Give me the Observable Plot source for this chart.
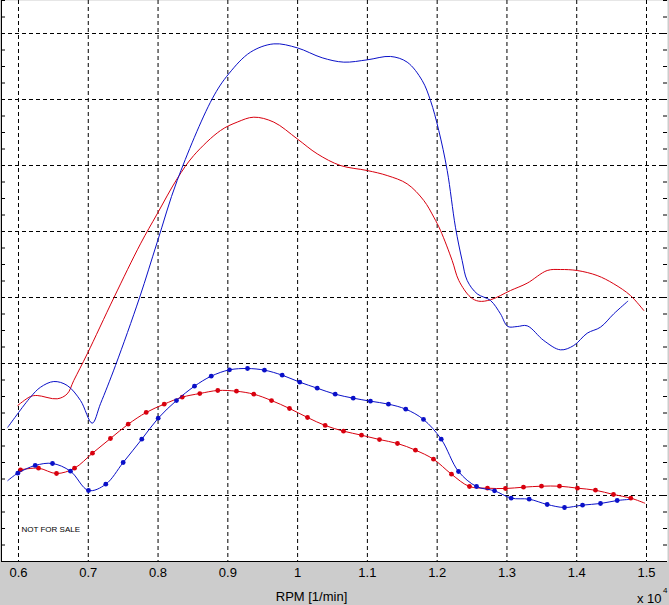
<!DOCTYPE html>
<html>
<head>
<meta charset="utf-8">
<script src="https://cdn.jsdelivr.net/npm/d3@7"></script>
<script src="https://cdn.jsdelivr.net/npm/@observablehq/plot@0.6"></script>
<style>
html, body { margin: 0; padding: 0; background: #cccccc; }
#chart { width: 669px; height: 605px; }
</style>
</head>
<body>
<div id="chart"></div>
<script>
// ---------- data (RPM, value in grid units) ----------
const upperBlueRpm = [5847, 6172, 6315, 6506, 6698, 6889, 7056, 7175, 7390, 7734, 7988, 8274, 8776, 9014, 9325, 9659, 9994, 10352, 10662, 10997, 11331, 11570, 11785, 11904, 12023, 12144, 12262, 12358, 12430, 12573, 12764, 12907, 13012, 13147, 13290, 13528, 13767, 13958, 14150, 14340, 14531, 14732];
const upperBlueVal = [2.035, 2.49, 2.64, 2.727, 2.667, 2.439, 2.096, 2.39, 2.97, 3.995, 4.838, 5.773, 7.01, 7.39, 7.717, 7.843, 7.783, 7.632, 7.566, 7.601, 7.652, 7.566, 7.288, 6.985, 6.53, 5.924, 5.065, 4.56, 4.258, 4.056, 3.955, 3.753, 3.561, 3.56, 3.571, 3.348, 3.207, 3.273, 3.459, 3.55, 3.753, 3.944];

const upperRedRpm = [5990, 6172, 6268, 6555, 6698, 6792, 6985, 7366, 7748, 7988, 8274, 8512, 8895, 9134, 9372, 9659, 9994, 10281, 10614, 10997, 11284, 11570, 11808, 11952, 12048, 12215, 12310, 12478, 12597, 12764, 13051, 13290, 13577, 13767, 14007, 14293, 14531, 14770, 14961];
const upperRedVal = [2.364, 2.5, 2.515, 2.465, 2.54, 2.742, 3.146, 3.995, 4.813, 5.268, 5.8, 6.152, 6.53, 6.657, 6.732, 6.657, 6.404, 6.177, 6.0, 5.924, 5.848, 5.722, 5.47, 5.217, 5.015, 4.56, 4.258, 4.005, 3.944, 3.965, 4.106, 4.217, 4.409, 4.424, 4.409, 4.333, 4.207, 4.03, 3.803];

const lowerBlueRpm = [5990, 6239, 6487, 6745, 7003, 7251, 7500, 7767, 8002, 8264, 8522, 8762, 9024, 9282, 9525, 9779, 10031, 10281, 10539, 10797, 11044, 11302, 11550, 11804, 12058, 12306, 12564, 12822, 13061, 13319, 13577, 13825, 14083, 14341, 14580];
const lowerBlueVal = [1.338, 1.455, 1.485, 1.368, 1.076, 1.171, 1.5, 1.853, 2.171, 2.439, 2.656, 2.808, 2.904, 2.924, 2.899, 2.823, 2.717, 2.626, 2.535, 2.475, 2.429, 2.384, 2.308, 2.152, 1.853, 1.364, 1.136, 1.071, 0.96, 0.944, 0.864, 0.818, 0.854, 0.879, 0.924];
const lowerBlueLeadRpm = [5847];
const lowerBlueLeadVal = [1.227];
const lowerBlueTailRpm = [14746];
const lowerBlueTailVal = [0.94];

const lowerRedRpm = [6029, 6287, 6545, 6803, 7060, 7318, 7572, 7830, 8088, 8346, 8598, 8856, 9124, 9372, 9626, 9884, 10142, 10395, 10658, 10916, 11173, 11431, 11689, 11947, 12205, 12463, 12721, 12979, 13237, 13495, 13753, 14011, 14269, 14527, 14775];
const lowerRedVal = [1.389, 1.414, 1.333, 1.414, 1.641, 1.864, 2.08, 2.258, 2.384, 2.49, 2.545, 2.591, 2.58, 2.535, 2.439, 2.318, 2.182, 2.061, 1.975, 1.914, 1.848, 1.788, 1.687, 1.55, 1.323, 1.136, 1.111, 1.106, 1.126, 1.141, 1.141, 1.111, 1.08, 1.015, 0.96];
const lowerRedTailRpm = [14975];
const lowerRedTailVal = [0.884];

const xTicks = [6000, 7000, 8000, 9000, 10000, 11000, 12000, 13000, 14000, 15000];
const xTickLabels = ["0.6", "0.7", "0.8", "0.9", "1", "1.1", "1.2", "1.3", "1.4", "1.5"];
const yGrid = [1, 2, 3, 4, 5, 6, 7, 8];
const yMinorTicks = d3.range(0, 8.51, 0.25);
const xLabel = "RPM [1/min]";
const xExponentBase = "x 10";
const xExponent = "4";
const watermark = "NOT FOR SALE";

// ---------- helpers ----------
const zip = (xs, ys) => xs.map((x, i) => ({x, y: ys[i]}));
const upperBlue = zip(upperBlueRpm, upperBlueVal);
const upperRed = zip(upperRedRpm, upperRedVal);
const lowerBlueMarks = zip(lowerBlueRpm, lowerBlueVal);
const lowerRedMarks = zip(lowerRedRpm, lowerRedVal);
const lowerBlueLine = zip(lowerBlueLeadRpm, lowerBlueLeadVal).concat(lowerBlueMarks, zip(lowerBlueTailRpm, lowerBlueTailVal));
const lowerRedLine = lowerRedMarks.concat(zip(lowerRedTailRpm, lowerRedTailVal));

const W = 669, H = 605;
const mL = 1, mR = 2, mT = 0, mB = 44;
const frameW = W - mL - mR;
const xDomain = [5756.4, 15300.9];
const yDomain = [0, 8.5];
const BLUE = "#0a10c8";
const RED = "#d8000e";
const dash = "4,3";

const chart = Plot.plot({
  width: W,
  height: H,
  marginLeft: mL,
  marginRight: mR,
  marginTop: mT,
  marginBottom: mB,
  style: {background: "#cccccc", fontFamily: "'Liberation Sans', Arial, sans-serif", fontSize: "13px", color: "#000", overflow: "visible"},
  x: {domain: xDomain, ticks: xTicks, tickFormat: d => xTickLabels[xTicks.indexOf(d)], tickSize: 0, tickPadding: 6, label: null},
  y: {domain: yDomain, axis: null},
  marks: [
    Plot.frame({fill: "white", stroke: null}),
    Plot.ruleX(xTicks, {stroke: "#000", strokeWidth: 1, strokeDasharray: dash}),
    Plot.ruleY(yGrid, {stroke: "#000", strokeWidth: 1, strokeDasharray: dash}),
    Plot.ruleY(yMinorTicks, {stroke: "#000", insetRight: frameW - 4}),
    Plot.ruleY(yMinorTicks, {stroke: "#000", insetLeft: frameW - 4}),
    Plot.ruleX([xDomain[0]], {stroke: "#000"}),
    Plot.ruleY([yDomain[0]], {stroke: "#000"}),
    Plot.line(upperRed, {x: "x", y: "y", stroke: RED, strokeWidth: 1, curve: "catmull-rom"}),
    Plot.line(upperBlue, {x: "x", y: "y", stroke: BLUE, strokeWidth: 1, curve: "catmull-rom"}),
    Plot.line(lowerRedLine, {x: "x", y: "y", stroke: RED, strokeWidth: 1, curve: "catmull-rom"}),
    Plot.dot(lowerRedMarks, {x: "x", y: "y", fill: RED, r: 2.4, stroke: null}),
    Plot.line(lowerBlueLine, {x: "x", y: "y", stroke: BLUE, strokeWidth: 1, curve: "catmull-rom"}),
    Plot.dot(lowerBlueMarks, {x: "x", y: "y", fill: BLUE, r: 2.4, stroke: null}),
    Plot.text([watermark], {frameAnchor: "bottom-left", dx: 20, dy: -30, textAnchor: "start", lineAnchor: "bottom", fontSize: 8, fill: "#000"}),
    Plot.text([xLabel], {frameAnchor: "bottom", dx: -23, dy: 39, textAnchor: "middle", lineAnchor: "bottom", fontSize: 13, fill: "#000"}),
    Plot.text([xExponentBase], {frameAnchor: "bottom-right", dx: -30.5, dy: 41, textAnchor: "start", lineAnchor: "bottom", fontSize: 13, fill: "#000"}),
    Plot.text([xExponent], {frameAnchor: "bottom-right", dx: -4.5, dy: 31, textAnchor: "start", lineAnchor: "bottom", fontSize: 8, fill: "#000"})
  ]
});
document.getElementById("chart").appendChild(chart);
</script>
</body>
</html>
